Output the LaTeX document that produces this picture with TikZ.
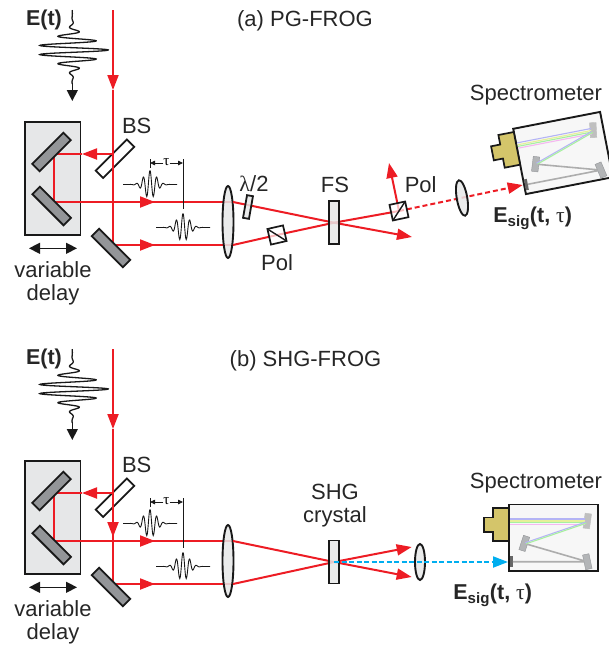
\documentclass[tikz,border=0pt]{standalone}
\usepackage{fontspec}
\setmainfont{Liberation Sans}
\newfontfamily\greekfont{Liberation Serif}
\usetikzlibrary{arrows.meta, calc, shapes.geometric}
\definecolor{beamred}{HTML}{ED1C24}
\definecolor{beamblue}{HTML}{00AEEF}
\definecolor{stagegray}{HTML}{E6E7E8}
\definecolor{mirrorgray}{HTML}{939598}
\definecolor{camgold}{HTML}{D4C56A}
\definecolor{rayblue}{HTML}{B4B4F5}
\definecolor{rayyellow}{HTML}{E6F09A}
\definecolor{raygreen}{HTML}{A8F0A0}
\definecolor{raypink}{HTML}{F5B8F0}
\tikzset{
	x=1pt, y=-1pt, % one unit is one pixel of the layout, y runs downwards
	every node/.style={inner sep=0pt, outer sep=0pt},
	lbl/.style={font=\fontsize{22}{24}\selectfont, text=black!85},
	boldlbl/.style={font=\fontsize{21.5}{24}\selectfont\bfseries, text=black!85},
	beam/.style={draw=beamred, line width=2pt},
	beamhead/.style={beam, -{Triangle[length=15pt,width=11pt,fill=beamred]}},
	blackhead/.style={line width=1.3pt, black!90, -{Triangle[length=11pt,width=11pt]}},
	stagebox/.style={draw=black!90, line width=1.9pt, fill=stagegray, minimum width=55.5pt, minimum height=113pt},
	mirror/.style={draw=black!90, line width=1.8pt, fill=mirrorgray, minimum width=44pt, minimum height=10.5pt},
	plate/.style={draw=black!90, line width=1.8pt, fill=stagegray, fill opacity=.85, minimum width=10pt, minimum height=43pt},
	lens/.style={ellipse, draw=black!90, line width=1.9pt, fill=stagegray, fill opacity=.85, minimum width=11pt, minimum height=72pt},
	polcube/.style={draw=black!90, line width=1.7pt, fill=white, fill opacity=.7, minimum size=16pt},
	smirror/.style={draw=mirrorgray, fill=mirrorgray!70, minimum width=6.5pt, minimum height=15pt},
	ray/.style={line width=1.1pt},
	grayray/.style={line width=1.6pt, draw=black!32},
}
% horizontal wave packet: centre x, centre y
\newcommand{\wavelet}[2]{
	\draw[line width=.9pt, black!90] plot[domain=#1-27:#1+27, samples=110, smooth]
		(\x, {#2-14*exp(-((\x-#1)/8.5)*((\x-#1)/8.5))*cos(360*(\x-#1)/6.7)});
}
\begin{document}
\begin{tikzpicture}
	\useasboundingbox (0,0) rectangle (609,646);

	\foreach \pan/\dy in {a/0,b/339}
	{
		\begin{scope}[shift={(0,\dy)}]
			\node[stagebox](stage\pan) at (52.7,178.5) {};
			\node[plate,fill=white,minimum width=44pt,minimum height=10.5pt,rotate=45](bs\pan) at (115,158.7) {};

			\coordinate (in\pan) at (113,10);
			\coordinate (down\pan) at (113,90);
			\coordinate (fold\pan) at (113,245);
			\coordinate (split\pan) at (113,154);
			\coordinate (back\pan) at (82,154);
			\coordinate (upcorner\pan) at (54,154);
			\coordinate (lowcorner\pan) at (54,202);
			\coordinate (uphead\pan) at (155,202);
			\coordinate (lowhead\pan) at (155,245);
			\coordinate (lensup\pan) at (233,202);
			\coordinate (lenslow\pan) at (233,245);

			\draw[beamhead] (in\pan) -- (down\pan);
			\draw[beam] (down\pan) -- (fold\pan);
			\draw[beamhead] (split\pan) -- (back\pan);
			\draw[beam] (back\pan) -- (upcorner\pan) -- (lowcorner\pan) -- (uphead\pan);
			\draw[beamhead] ($(uphead\pan)+(-1,0)$) -- (uphead\pan);
			\draw[beam] (uphead\pan) -- (lensup\pan);
			\draw[beam] (fold\pan) -- (lowhead\pan);
			\draw[beamhead] ($(lowhead\pan)+(-1,0)$) -- (lowhead\pan);
			\draw[beam] (lowhead\pan) -- (lenslow\pan);

			\node[mirror,rotate=45](mup\pan) at (51.5,152) {};
			\node[mirror,rotate=-45](mlow\pan) at (51.7,206) {};
			\node[mirror,rotate=-45](mfold\pan) at (111,248) {};
			\node[lens](lens\pan) at (228,222) {};

			% input pulse
			\draw[line width=1.3pt, black!90] plot[domain=10:84, samples=220, smooth]
				({72.3+36*exp(-((\x-50)/14.4)*((\x-50)/14.4))*cos(360*(\x-50)/9.3)}, \x);
			\coordinate (pulseend\pan) at (72.3,84);
			\coordinate (pulsetip\pan) at (72.3,101);
			\draw[blackhead] (pulseend\pan) -- (pulsetip\pan);

			% delay between the two pulses
			\wavelet{150}{184.5}
			\wavelet{183}{227.5}
			\coordinate (tautop\pan) at (150,159);
			\coordinate (taubot\pan) at (150,168);
			\coordinate (lagtop\pan) at (183,159);
			\coordinate (lagbot\pan) at (183,209);
			\draw[line width=.9pt, black!90] (tautop\pan) -- (taubot\pan);
			\draw[line width=.9pt, black!90] (lagtop\pan) -- (lagbot\pan);
			\node[font=\fontsize{15}{16}\selectfont\greekfont](tau\pan) at (166.5,162.5) {τ};
			\coordinate (taul\pan) at (150,163);
			\coordinate (taur\pan) at (183,163);
			\draw[line width=.8pt, black!90, -{Triangle[length=5pt,width=4.5pt]}] (tau\pan.west |- taul\pan) -- (taul\pan);
			\draw[line width=.8pt, black!90, -{Triangle[length=5pt,width=4.5pt]}] (tau\pan.east |- taur\pan) -- (taur\pan);

			% travel of the delay stage
			\coordinate (travl\pan) at (29,248.3);
			\coordinate (travr\pan) at (77,248.3);
			\draw[blackhead, {Triangle[length=11pt,width=11pt]}-{Triangle[length=11pt,width=11pt]}] (travl\pan) -- (travr\pan);

			\node[boldlbl](et\pan) at (44,20) {E(t)};
			\node[lbl](bslbl\pan) at (136.7,125.5) {BS};
			\node[lbl](var\pan) at (53,270) {variable};
			\node[lbl](delay\pan) at (53,295) {delay};
		\end{scope}
	}

	% spectrometers
	\foreach \pan/\cx/\cy/\ang in {a/563/153/11,b/553.3/537.7/0}
	{
		\begin{scope}[shift={(\cx,\cy)},rotate=\ang,transform shape]
			\node[draw=black!90, line width=1.9pt, fill=black!3, minimum width=88.5pt, minimum height=66.5pt](box\pan) at (0,0) {};
			\draw[draw=black!90, line width=1.7pt, fill=camgold] (-44.3,-30) -- (-60,-30) -- (-60,-20.3) -- (-69.3,-20.3) -- (-69.3,-6) -- (-60,-6) -- (-60,3.3) -- (-44.3,3.3) -- cycle;
			\coordinate (slit\pan) at (-43,-15.5);
			\coordinate (sfan\pan) at (32,-15.5);
			\coordinate (sfold\pan) at (-28,5);
			\coordinate (send\pan) at (-42,24);
			\node[smirror,fill=black!25,draw=black!25,rotate=-8](sone\pan) at (34,-16.7) {};
			\node[smirror,rotate=-18](stwo\pan) at (-29,5.7) {};
			\node[smirror,rotate=12](sthree\pan) at (34,24) {};
			\node[fill=black!60, minimum width=3pt, minimum height=11pt](sfour\pan) at (send\pan) {};
			\foreach \c/\o in {rayblue/-3.2,rayyellow/-1.2,raygreen/.4,raypink/2.2}
			{
				\draw[ray,draw=\c] ($(slit\pan)+(0,\o)$) -- ($(sfan\pan)+(0,\o)$);
			}
			\draw[ray,draw=rayblue] (sfan\pan) -- (sfold\pan);
			\draw[ray,draw=raygreen] ($(sfan\pan)+(1,1)$) -- ($(sfold\pan)+(1,1)$);
			\draw[grayray] (stwo\pan) -- (sthree\pan) -- (sfour\pan);
		\end{scope}
	}

	% (a) PG-FROG
	\node[lbl](titlea) at (305,21) {(a) PG-FROG};
	\coordinate (outa) at (412,237);
	\coordinate (poluta) at (389,163);
	\coordinate (siga) at (522.7,185);
	\coordinate (polcenta) at (399,211);
	\coordinate (polcentb) at (277,235);
	\coordinate (fscent) at (334,222.7);
	\draw[beam] (lensupa) -- (fscent);
	\draw[beamhead] (fscent) -- (outa);
	\draw[beam] (lenslowa) -- (polcentb) -- (fscent) -- (polcenta);
	\draw[beamhead] (polcenta) -- (poluta);
	\draw[beamhead,dash pattern=on 5pt off 3pt] (polcenta) -- (siga);
	\node[plate,minimum width=6pt,minimum height=23pt,rotate=-10](wpa) at (248,207) {};
	\node[plate](fsa) at (fscent) {};
	\node[polcube,rotate=13](pola) at (polcentb) {};
	\draw[line width=1.4pt, black!90] (pola.north west) -- (pola.south east);
	\node[polcube,rotate=12](polb) at (polcenta) {};
	\draw[line width=1.4pt, black!90] (polb.south west) -- (polb.north east);
	\node[lens,minimum width=10.5pt,minimum height=36pt,rotate=10](lenstwoa) at (462,198) {};
	\node[lbl](hwp) at (254,184) {{\greekfont λ}/2};
	\node[lbl](pollbla) at (277,263) {Pol};
	\node[lbl](fslbl) at (335,185) {FS};
	\node[lbl](pollblb) at (420.7,185) {Pol};
	\node[lbl](speca) at (536,95.5) {Spectrometer};
	\node[boldlbl](esiga) at (532.7,218) {E\textsubscript{sig}(t, {\mdseries\greekfont τ})};

	% (b) SHG-FROG
	\node[lbl](titleb) at (305.5,361) {(b) SHG-FROG};
	\coordinate (downtwob) at (113,537);
	\coordinate (downoneb) at (113,522);
	\draw[beamhead] (downoneb) -- (downtwob);
	\coordinate (crystb) at (334,562);
	\coordinate (outub) at (411.7,547);
	\coordinate (outlb) at (411.7,577);
	\coordinate (sigb) at (508,562);
	\draw[beam] (lensupb) -- (crystb);
	\draw[beam] (lenslowb) -- (crystb);
	\draw[beamhead] (crystb) -- (outub);
	\draw[beamhead] (crystb) -- (outlb);
	\node[plate](shg) at (crystb) {};
	\node[lens,minimum width=10pt,minimum height=36pt](lenstwob) at (420,562) {};
	\draw[line width=2pt, draw=beamblue, dash pattern=on 5pt off 2.5pt, -{Triangle[length=15pt,width=11pt,fill=beamblue]}] (crystb) -- (sigb);
	\node[lbl](shglbl) at (335,492) {SHG};
	\node[lbl](crystlbl) at (335,517) {crystal};
	\node[lbl](specb) at (536,483) {Spectrometer};
	\node[boldlbl](esigb) at (492.7,595) {E\textsubscript{sig}(t, {\mdseries\greekfont τ})};

\end{tikzpicture}
\end{document}
